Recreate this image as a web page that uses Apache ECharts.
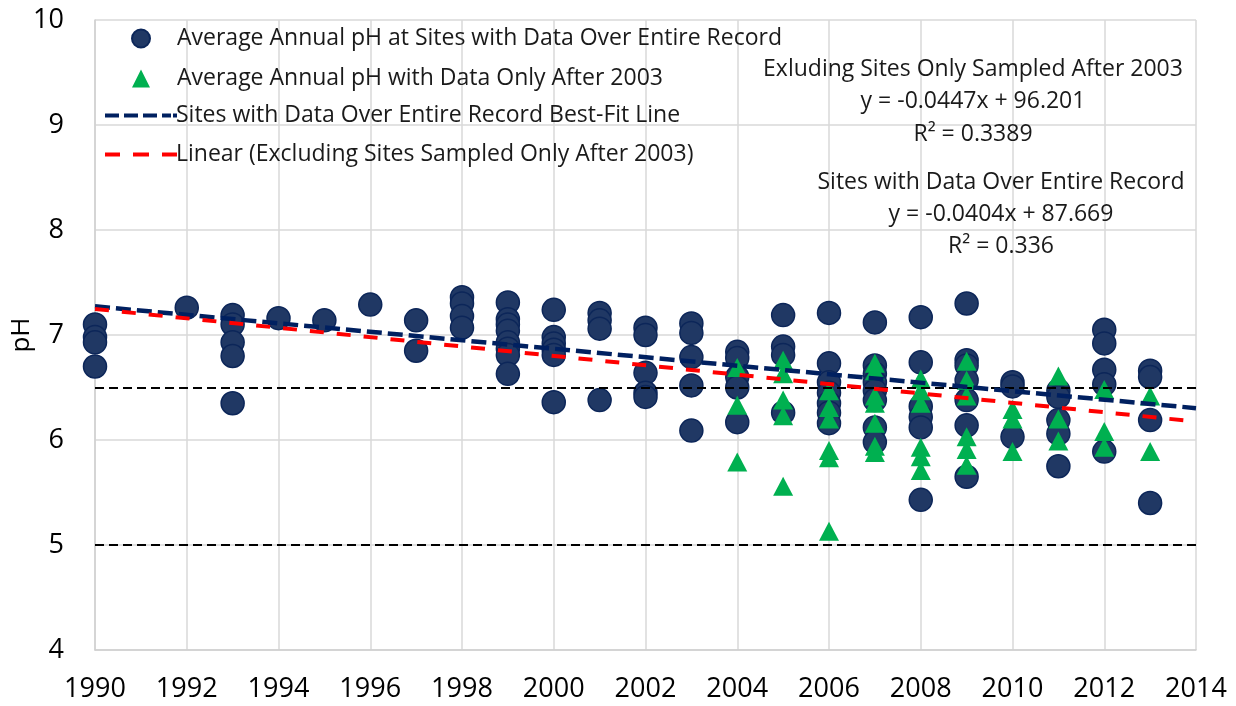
<!DOCTYPE html>
<html>
<head>
<meta charset="utf-8">
<script src="https://cdn.jsdelivr.net/npm/echarts@6/dist/echarts.min.js"></script>
<style>
  html, body { margin: 0; padding: 0; background: #fff; }
  #chart { width: 1236px; height: 706px; }
</style>
</head>
<body>
<div id="chart"></div>
<script>
// 全记录站点（圆点）
const entireYears = [1990, 1992, 1993, 1994, 1995, 1996, 1997, 1998, 1999, 2000, 2001, 2002, 2003, 2004, 2005, 2006, 2007, 2008, 2009, 2010, 2011, 2012, 2013]
const entirePH = [
  [7.1, 6.98, 6.93, 6.7],
  [7.26],
  [7.19, 7.1, 6.93, 6.8, 6.35],
  [7.16],
  [7.14],
  [7.29],
  [7.14, 6.85],
  [7.36, 7.3, 7.18, 7.07],
  [7.31, 7.15, 7.1, 7.04, 6.93, 6.87, 6.81, 6.63],
  [7.24, 6.98, 6.92, 6.86, 6.81, 6.36],
  [7.21, 7.14, 7.06, 6.38],
  [7.07, 7.0, 6.64, 6.45, 6.41],
  [7.11, 7.02, 6.79, 6.52, 6.09],
  [6.84, 6.78, 6.6, 6.5, 6.17],
  [7.19, 6.89, 6.81, 6.26],
  [7.21, 6.73, 6.55, 6.45, 6.35, 6.26, 6.16],
  [7.12, 6.71, 6.63, 6.55, 6.47, 6.38, 6.12, 5.98],
  [7.17, 6.74, 6.32, 6.22, 6.12, 5.43],
  [7.3, 6.76, 6.71, 6.57, 6.38, 6.14, 5.65],
  [6.55, 6.51, 6.03],
  [6.47, 6.41, 6.19, 6.06, 5.75],
  [7.05, 6.92, 6.67, 6.53, 5.89],
  [6.66, 6.6, 6.19, 5.4]
]

// 2003 年后才采样的站点（三角）
const lateYears = [2004, 2005, 2006, 2007, 2008, 2009, 2010, 2011, 2012, 2013]
const latePH = [
  [6.69, 6.33, 5.79],
  [6.76, 6.63, 6.38, 6.23, 5.56],
  [6.47, 6.31, 6.2, 5.9, 5.83, 5.13],
  [6.73, 6.66, 6.42, 6.35, 6.16, 5.94, 5.88],
  [6.58, 6.47, 6.35, 5.93, 5.84, 5.71],
  [6.75, 6.57, 6.42, 6.03, 5.91, 5.76],
  [6.29, 6.2, 5.89],
  [6.61, 6.2, 5.99],
  [6.48, 6.08, 5.93],
  [6.42, 5.89]
]

// 趋势线 [斜率, 截距]
const entireFit = [-0.0404, 87.669]
const excludingFit = [-0.0447, 96.201]
const fitRange = [1990, 2014]

const limitLines = [6.5, 5.0]
const xTicks = [1990, 2014, 2]
const yTicks = [4, 10, 1]

const seriesNames = [
  'Average Annual pH at Sites with Data Over Entire Record',
  'Average Annual pH with Data Only After 2003',
  'Sites with Data Over Entire Record Best-Fit Line',
  'Linear (Excluding Sites Sampled Only After 2003)'
]

const toPoints = (years, values) => {
  const out = []
  years.forEach((year, i) => {
    values[i].forEach((v) => out.push([year, v]))
  })
  return out
}
const fitLine = (fit) => fitRange.map((x) => [x, fit[0] * x + fit[1]])

// 图例里的虚线图标
const navyDash = 'path://M0 0h14v4h-14z M19 0h14v4h-14z M38 0h14v4h-14z M57 0h9v4h-9z M68 0h4v4h-4z'
const redDash = 'path://M0 0h15v4h-15z M28 0h16v4h-16z M57 0h15v4h-15z'

const FONT = 'Open Sans'
const legendText = { fontFamily: FONT, fontSize: 23, color: '#1a1a1a', lineHeight: 20 }
const chart = echarts.init(document.getElementById('chart'))
chart.setOption({
  animation: false,
  backgroundColor: '#fff',
  textStyle: { fontFamily: FONT },
  grid: { left: 95, right: 40, top: 20, bottom: 56, outerBoundsMode: 'none', containLabel: false },
  legend: [
    {
      orient: 'vertical',
      left: 126,
      top: 22,
      itemWidth: 18,
      itemHeight: 18,
      itemGap: 17,
      data: [
        { name: seriesNames[0], icon: 'circle' },
        { name: seriesNames[1], icon: 'triangle' }
      ],
      textStyle: Object.assign({ padding: [0, 0, 0, 22] }, legendText)
    },
    {
      orient: 'vertical',
      left: 100,
      top: 99,
      itemWidth: 72,
      itemHeight: 18,
      itemGap: 16,
      data: [
        { name: seriesNames[2], icon: navyDash, itemStyle: { borderWidth: 0 } },
        { name: seriesNames[3], icon: redDash, itemStyle: { borderWidth: 0 } }
      ],
      textStyle: Object.assign({ padding: [0, 0, 0, -6] }, legendText)
    }
  ],
  xAxis: {
    type: 'value',
    min: xTicks[0],
    max: xTicks[1],
    interval: xTicks[2],
    axisLine: { show: true, lineStyle: { color: '#d0d0d0', width: 1.5 } },
    axisTick: { show: false },
    splitLine: { show: true, lineStyle: { color: '#d9d9d9', width: 1.5 } },
    axisLabel: { fontFamily: FONT, fontSize: 27, color: '#000', margin: 26, formatter: (v) => String(v) }
  },
  yAxis: {
    type: 'value',
    name: 'pH',
    nameLocation: 'middle',
    nameGap: 60,
    nameMoveOverlap: false,
    nameTextStyle: { fontFamily: FONT, fontSize: 26, color: '#000' },
    min: yTicks[0],
    max: yTicks[1],
    interval: yTicks[2],
    axisLine: { show: true, lineStyle: { color: '#d0d0d0', width: 1.5 } },
    axisTick: { show: false },
    splitLine: { show: true, lineStyle: { color: '#d9d9d9', width: 1.5 } },
    axisLabel: { fontFamily: FONT, fontSize: 27, color: '#000', margin: 31 }
  },
  series: [
    {
      name: seriesNames[0],
      type: 'scatter',
      symbol: 'circle',
      symbolSize: 23,
      itemStyle: { color: '#203864', borderColor: '#0c2659', borderWidth: 1.5, opacity: 1 },
      data: toPoints(entireYears, entirePH),
      z: 2
    },
    {
      name: seriesNames[1],
      type: 'scatter',
      symbol: 'triangle',
      symbolSize: [20, 19],
      itemStyle: { color: '#00b050', opacity: 1 },
      data: toPoints(lateYears, latePH),
      z: 3
    },
    {
      name: 'limits',
      type: 'line',
      data: [],
      markLine: {
        silent: true,
        symbol: 'none',
        label: { show: false },
        lineStyle: { color: '#000', width: 2, type: [9, 5] },
        data: limitLines.map((v) => ({ yAxis: v }))
      },
      z: 4
    },
    {
      name: seriesNames[2],
      type: 'line',
      symbol: 'none',
      lineStyle: { color: '#002060', width: 4.5, type: [15, 6] },
      itemStyle: { color: '#002060' },
      data: fitLine(entireFit),
      z: 5
    },
    {
      name: seriesNames[3],
      type: 'line',
      symbol: 'none',
      lineStyle: { color: '#ff0000', width: 4, type: [14, 13] },
      itemStyle: { color: '#ff0000' },
      data: fitLine(excludingFit),
      z: 6
    }
  ],
  graphic: [
    {
      type: 'text',
      x: 973,
      y: 53,
      style: {
        text: 'Exluding Sites Only Sampled After 2003\ny = -0.0447x + 96.201\nR² = 0.3389',
        align: 'center',
        verticalAlign: 'top',
        fill: '#1a1a1a',
        font: '23px "' + FONT + '"',
        lineHeight: 32.5
      },
      z: 10
    },
    {
      type: 'text',
      x: 1001,
      y: 166,
      style: {
        text: 'Sites with Data Over Entire Record\ny = -0.0404x + 87.669\nR² = 0.336',
        align: 'center',
        verticalAlign: 'top',
        fill: '#1a1a1a',
        font: '23px "' + FONT + '"',
        lineHeight: 32
      },
      z: 10
    }
  ]
})
</script>
</body>
</html>
